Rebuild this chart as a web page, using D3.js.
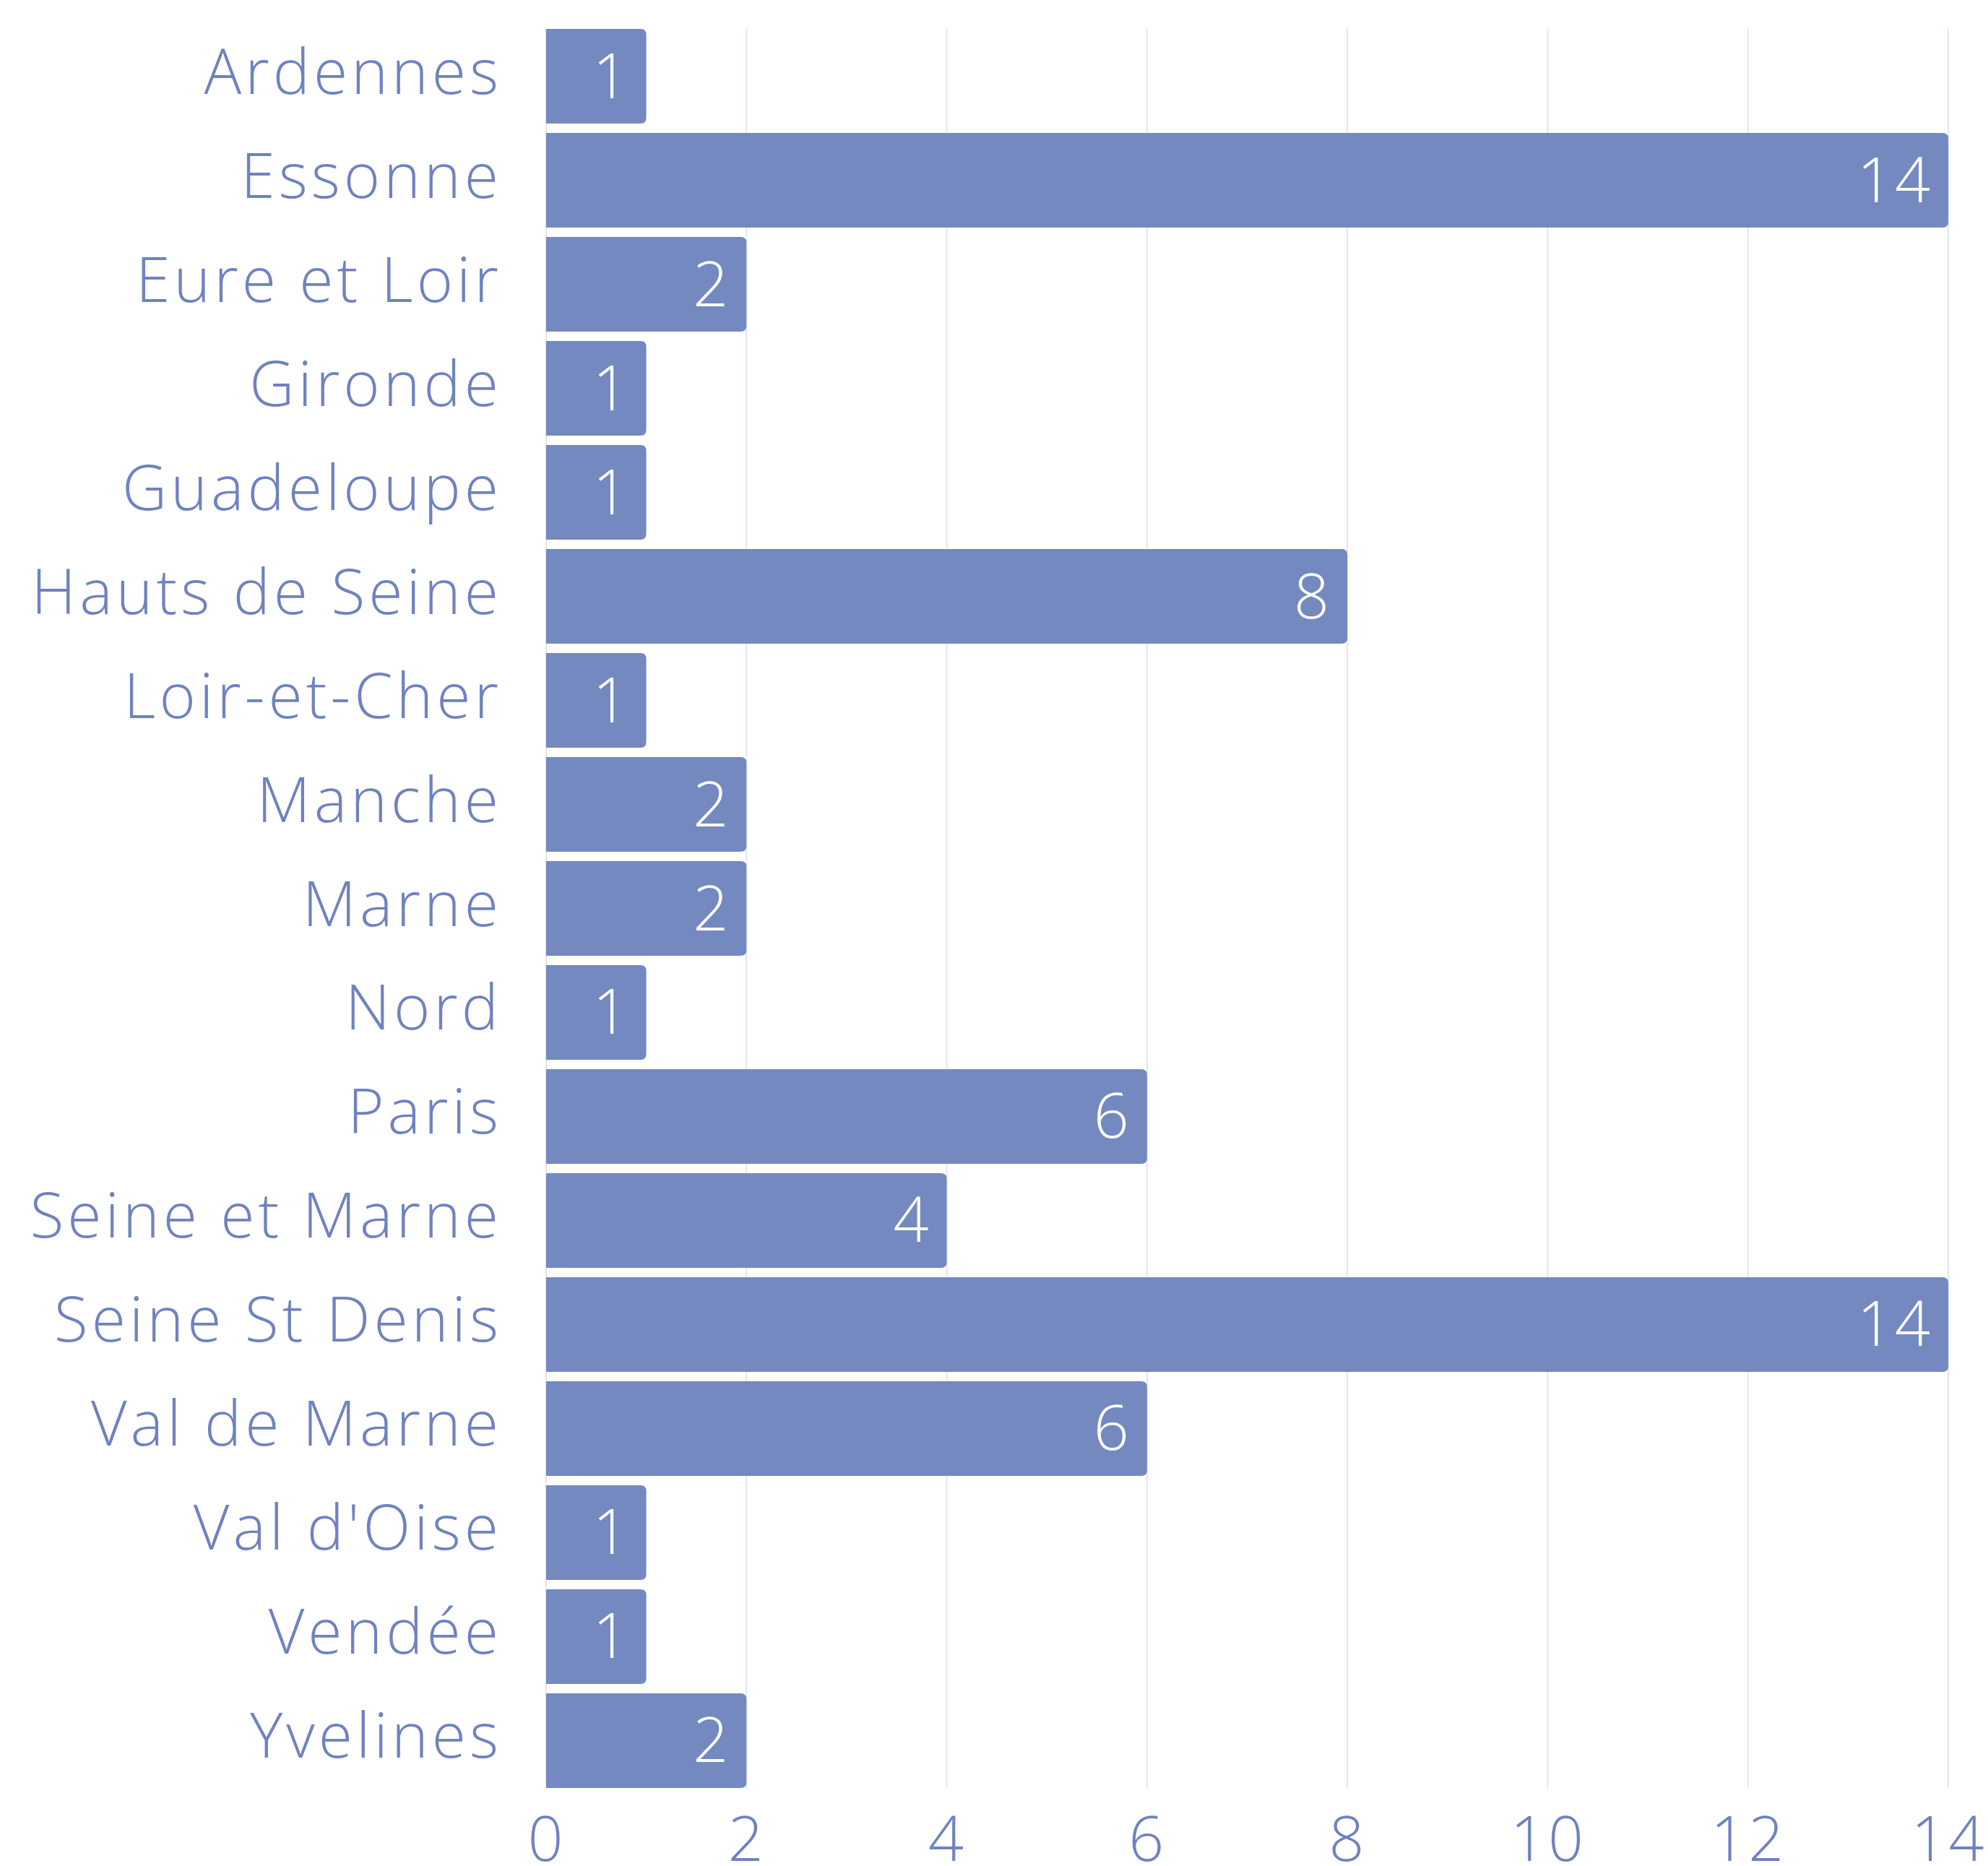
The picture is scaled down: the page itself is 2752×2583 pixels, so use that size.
<!DOCTYPE html>
<html>
<head>
<meta charset="utf-8">
<script src="https://cdn.jsdelivr.net/npm/d3@7"></script>
<style>
  body { margin: 0; background: #fff; }
  text { font-family: "Open Sans", "DejaVu Sans", sans-serif; font-weight: 300; }
  .cat { fill: #6f82c0; font-size: 86px; letter-spacing: 5px; }
  .tick text { fill: #6f82c0; font-size: 86px; letter-spacing: 3px; }
  .val { fill: #fff; font-size: 86px; letter-spacing: 3px; }
</style>
</head>
<body>
<div id="chart"></div>
<script>
const categories = ["Ardennes", "Essonne", "Eure et Loir", "Gironde", "Guadeloupe", "Hauts de Seine",
  "Loir-et-Cher", "Manche", "Marne", "Nord", "Paris", "Seine et Marne", "Seine St Denis",
  "Val de Marne", "Val d'Oise", "Vendée", "Yvelines"];
const values = [1, 14, 2, 1, 1, 8, 1, 2, 2, 1, 6, 4, 14, 6, 1, 1, 2];
const ticks = [0, 2, 4, 6, 8, 10, 12, 14];

const width = 2752, height = 2583;
const margin = {top: 40, right: 55, bottom: 108, left: 756};

const svg = d3.select("#chart").append("svg")
  .attr("width", width)
  .attr("height", height);

const x = d3.scaleLinear()
  .domain([0, 14])
  .range([margin.left, width - margin.right]);

const y = d3.scaleBand()
  .domain(categories)
  .range([margin.top, height - margin.bottom])
  .paddingInner(0.09)
  .paddingOuter(0);

// grid
svg.append("g")
  .selectAll("line")
  .data(ticks)
  .join("line")
  .attr("x1", d => x(d)).attr("x2", d => x(d))
  .attr("y1", margin.top).attr("y2", height - margin.bottom)
  .attr("stroke", "#e1e5f1")
  .attr("stroke-width", 2);

// bars, rounded on the right end only
const r = 8;
const barPath = d => {
  const x0 = x(0), x1 = x(d.v), y0 = y(d.c), h = y.bandwidth();
  return `M${x0},${y0}H${x1 - r}Q${x1},${y0} ${x1},${y0 + r}V${y0 + h - r}Q${x1},${y0 + h} ${x1 - r},${y0 + h}H${x0}Z`;
};

const rows = categories.map((c, i) => ({c, v: values[i]}));

svg.append("g")
  .selectAll("path")
  .data(rows)
  .join("path")
  .attr("d", barPath)
  .attr("fill", "#7389bf");

svg.append("g")
  .selectAll("text")
  .data(rows)
  .join("text")
  .attr("class", "val")
  .attr("text-anchor", "end")
  .attr("x", d => x(d.v) - 22)
  .attr("y", d => y(d.c) + y.bandwidth() / 2 + 30)
  .text(d => d.v);

// category labels
svg.append("g")
  .selectAll("text")
  .data(rows)
  .join("text")
  .attr("class", "cat")
  .attr("text-anchor", "end")
  .attr("x", margin.left - 61)
  .attr("y", d => y(d.c) + y.bandwidth() / 2 + 24)
  .text(d => d.c);

// x axis
const xAxis = svg.append("g")
  .attr("transform", `translate(0,${height - margin.bottom})`)
  .call(d3.axisBottom(x).tickValues(ticks).tickSize(0));
xAxis.select(".domain").remove();
xAxis.selectAll("text").attr("y", 101).attr("dy", 0);
</script>
</body>
</html>
